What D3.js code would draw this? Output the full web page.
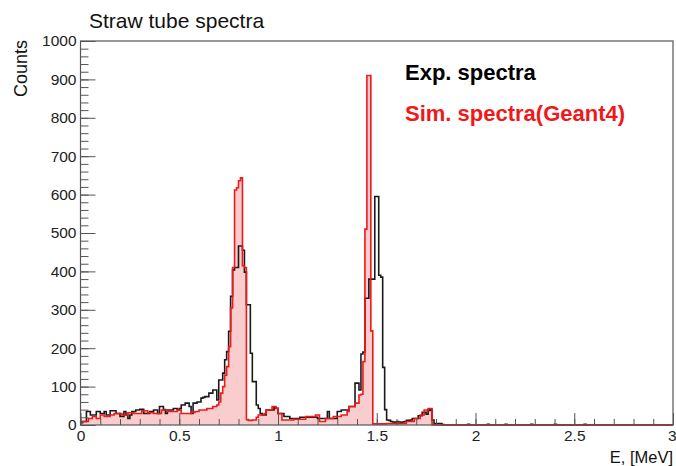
<!DOCTYPE html>
<html>
<head>
<meta charset="utf-8">
<script src="https://cdn.jsdelivr.net/npm/d3@7"></script>
<style>
  html, body { margin: 0; padding: 0; background: #fff; }
  svg { display: block; font-family: "Liberation Sans", Arial, Helvetica, sans-serif; }
</style>
</head>
<body>
<svg id="chart" width="676" height="466"></svg>
<script>
// ---------------- data ----------------
const binStart = 0;
const binWidth = 0.01; // MeV
const expCounts = [
  6, 9, 9, 35, 35, 26, 26, 26, 35, 35,
  30, 30, 35, 26, 26, 37, 37, 37, 30, 30,
  22, 22, 35, 26, 17, 26, 35, 35, 39, 39,
  41, 41, 30, 30, 30, 35, 35, 39, 39, 30,
  48, 48, 40, 30, 39, 39, 39, 43, 43, 39,
  43, 52, 52, 57, 57, 48, 30, 57, 57, 60,
  60, 70, 72, 74, 74, 83, 83, 91, 91, 65,
  117, 117, 135, 170, 191, 244, 335, 404, 410, 410,
  466, 466, 455, 398, 313, 313, 187, 113, 113, 52,
  43, 30, 26, 26, 39, 39, 39, 39, 45, 43,
  30, 30, 30, 22, 22, 22, 17, 17, 17, 17,
  17, 20, 20, 20, 20, 20, 20, 20, 20, 20,
  17, 17, 17, 17, 17, 35, 17, 17, 17, 17,
  35, 35, 39, 39, 39, 39, 48, 48, 48, 109,
  109, 91, 185, 190, 330, 330, 380, 380, 380, 595,
  595, 390, 385, 150, 40, 13, 12, 9, 8, 7,
  9, 8, 7, 8, 9, 12, 12, 13, 17, 17,
  17, 24, 24, 33, 33, 28, 38, 40, 13, 4,
  4, 4, 4, 1, 0, 0, 0, 0, 0, 0,
  0, 0, 0, 0, 0, 0, 2, 0, 0, 0,
  0, 0, 0, 0, 0, 0, 2, 0, 0, 0,
  0, 0, 0, 0, 0, 2, 0, 0, 0, 0,
  0, 0, 0, 0, 0, 0, 0, 0, 2, 0,
  0, 0, 0, 0, 0, 0, 0, 0, 0, 0,
  2, 0, 0, 0, 0, 0, 0, 0, 0, 0,
  0, 0, 0, 0, 0, 2, 0, 0, 0, 0,
  0, 0, 0, 0, 0, 0, 0, 0, 0, 0,
  0, 0, 0, 0, 0, 0, 0, 0, 0, 0,
  0, 0, 0, 0, 0, 0, 0, 0, 0, 0,
  0, 0, 0, 0, 0, 0, 0, 0, 0, 0
];
const simCounts = [
  8, 9, 9, 9, 17, 17, 22, 22, 17, 17,
  26, 26, 22, 22, 22, 26, 26, 30, 30, 30,
  30, 26, 26, 26, 32, 32, 32, 30, 30, 30,
  30, 37, 37, 37, 32, 32, 32, 30, 30, 30,
  30, 39, 39, 39, 35, 35, 35, 35, 35, 39,
  39, 30, 30, 30, 30, 30, 33, 33, 35, 35,
  39, 39, 39, 39, 43, 43, 43, 48, 48, 52,
  60, 83, 100, 130, 152, 204, 305, 410, 612, 618,
  636, 644, 415, 410, 14, 12, 12, 13, 13, 20,
  26, 26, 26, 30, 39, 39, 39, 48, 48, 44,
  30, 30, 13, 13, 13, 13, 13, 13, 15, 15,
  15, 15, 15, 15, 22, 22, 22, 22, 22, 26,
  26, 9, 9, 9, 17, 17, 17, 17, 22, 22,
  22, 22, 26, 26, 26, 35, 48, 48, 48, 57,
  57, 78, 80, 165, 510, 910, 910, 245, 3, 3,
  3, 3, 3, 3, 3, 4, 4, 4, 4, 4,
  4, 4, 4, 4, 4, 9, 9, 9, 9, 17,
  17, 17, 26, 26, 39, 39, 43, 43, 1, 0,
  0, 0, 0, 0, 0, 0, 0, 0, 0, 0,
  0, 0, 0, 0, 0, 0, 0, 0, 0, 0,
  0, 0, 0, 0, 0, 0, 0, 0, 0, 0,
  0, 0, 0, 0, 0, 0, 0, 0, 0, 0,
  0, 0, 0, 0, 0, 0, 0, 0, 0, 0,
  0, 0, 0, 0, 0, 0, 0, 0, 0, 0,
  0, 0, 0, 0, 0, 0, 0, 0, 0, 0,
  0, 0, 0, 0, 0, 0, 0, 0, 0, 0,
  0, 0, 0, 0, 0, 0, 0, 0, 0, 0,
  0, 0, 0, 0, 0, 0, 0, 0, 0, 0,
  0, 0, 0, 0, 0, 0, 0, 0, 0, 0,
  0, 0, 0, 0, 0, 0, 0, 0, 0, 0
];
const xMajorTicks = [0, 0.5, 1, 1.5, 2, 2.5, 3];
const xTickLabels = ["0", "0.5", "1", "1.5", "2", "2.5", "3"];
const xMinorTicks = d3.range(0, 31).map(i => i / 10);
const yMajorTicks = [0, 100, 200, 300, 400, 500, 600, 700, 800, 900, 1000];
const yTickLabels = ["0", "100", "200", "300", "400", "500", "600", "700", "800", "900", "1000"];
const yMinorTicks = d3.range(0, 51).map(i => i * 20);
const titleText = "Straw tube spectra";
const xTitle = "E, [MeV]";
const yTitle = "Counts";
const legendLabels = ["Exp. spectra", "Sim. spectra(Geant4)"];

// ---------------- layout ----------------
const L = 80.5, R = 673, T = 41, B = 425;
const svg = d3.select("#chart");
const x = d3.scaleLinear().domain([0, 3]).range([L, R]);
const y = d3.scaleLinear().domain([0, 1000]).range([B, T]);

function steps(counts) {
  const pts = [];
  counts.forEach((v, i) => {
    const e0 = binStart + i * binWidth, e1 = e0 + binWidth;
    pts.push([e0, v], [e1, v]);
  });
  return pts;
}

const simPts = steps(simCounts);
const expPts = steps(expCounts);

// fill of simulated spectrum
svg.append("path")
  .datum(simPts)
  .attr("fill", "#f9cdcd")
  .attr("stroke", "none")
  .attr("d", d3.area().x(d => x(d[0])).y0(y(0)).y1(d => y(d[1])));

const lineGen = d3.line().x(d => x(d[0])).y(d => y(d[1]));

// experimental
svg.append("path")
  .datum(expPts)
  .attr("fill", "none")
  .attr("stroke", "#1a1a1a")
  .attr("stroke-width", 1.6)
  .attr("d", lineGen);

// simulated outline
svg.append("path")
  .datum(simPts)
  .attr("fill", "none")
  .attr("stroke", "#f01818")
  .attr("stroke-width", 1.6)
  .attr("d", lineGen);

// ---------------- axes ----------------
const axisColor = "#555";
const gx = svg.append("g").attr("transform", `translate(0,${B})`);
gx.call(d3.axisBottom(x).tickValues(xMinorTicks).tickSizeInner(-6).tickSizeOuter(0).tickFormat(""));
gx.select(".domain").remove();
gx.selectAll("line").attr("stroke", axisColor);

const gx2 = svg.append("g").attr("transform", `translate(0,${B})`);
gx2.call(d3.axisBottom(x).tickValues(xMajorTicks).tickSizeInner(-12).tickSizeOuter(0).tickPadding(5)
  .tickFormat((d, i) => xTickLabels[i]));
gx2.select(".domain").remove();
gx2.selectAll("line").attr("stroke", axisColor);
gx2.selectAll("text").attr("font-size", 15.5).attr("fill", "#222")
  .attr("font-family", "'Liberation Sans', Arial, sans-serif");
// keep the last label inside the picture, as in the reference
gx2.selectAll("text").filter(d => d === 3).attr("text-anchor", "end").attr("x", 3);

const gy = svg.append("g").attr("transform", `translate(${L},0)`);
gy.call(d3.axisLeft(y).tickValues(yMinorTicks).tickSizeInner(-8).tickSizeOuter(0).tickFormat(""));
gy.select(".domain").remove();
gy.selectAll("line").attr("stroke", axisColor);

const gy2 = svg.append("g").attr("transform", `translate(${L},0)`);
gy2.call(d3.axisLeft(y).tickValues(yMajorTicks).tickSizeInner(-15).tickSizeOuter(0).tickPadding(4)
  .tickFormat((d, i) => yTickLabels[i]));
gy2.select(".domain").remove();
gy2.selectAll("line").attr("stroke", axisColor);
gy2.selectAll("text").attr("font-size", 15.5).attr("fill", "#222")
  .attr("font-family", "'Liberation Sans', Arial, sans-serif");

// frame
svg.append("rect")
  .attr("x", L).attr("y", T).attr("width", R - L).attr("height", B - T)
  .attr("fill", "none").attr("stroke", axisColor).attr("stroke-width", 1.2);

// ---------------- texts ----------------
svg.append("text").attr("x", 89).attr("y", 28)
  .attr("font-size", 21).attr("fill", "#111").text(titleText);

svg.append("text").attr("x", R).attr("y", 463)
  .attr("text-anchor", "end").attr("font-size", 16.5).attr("fill", "#111").text(xTitle);

svg.append("text")
  .attr("transform", "translate(27,40) rotate(-90)")
  .attr("text-anchor", "end").attr("font-size", 18).attr("fill", "#111").text(yTitle);

svg.append("text").attr("x", 405).attr("y", 80)
  .attr("font-size", 22).attr("font-weight", "bold").attr("fill", "#000").text(legendLabels[0]);
svg.append("text").attr("x", 405).attr("y", 121)
  .attr("font-size", 22).attr("font-weight", "bold").attr("fill", "#f01818").text(legendLabels[1]);
</script>
</body>
</html>
